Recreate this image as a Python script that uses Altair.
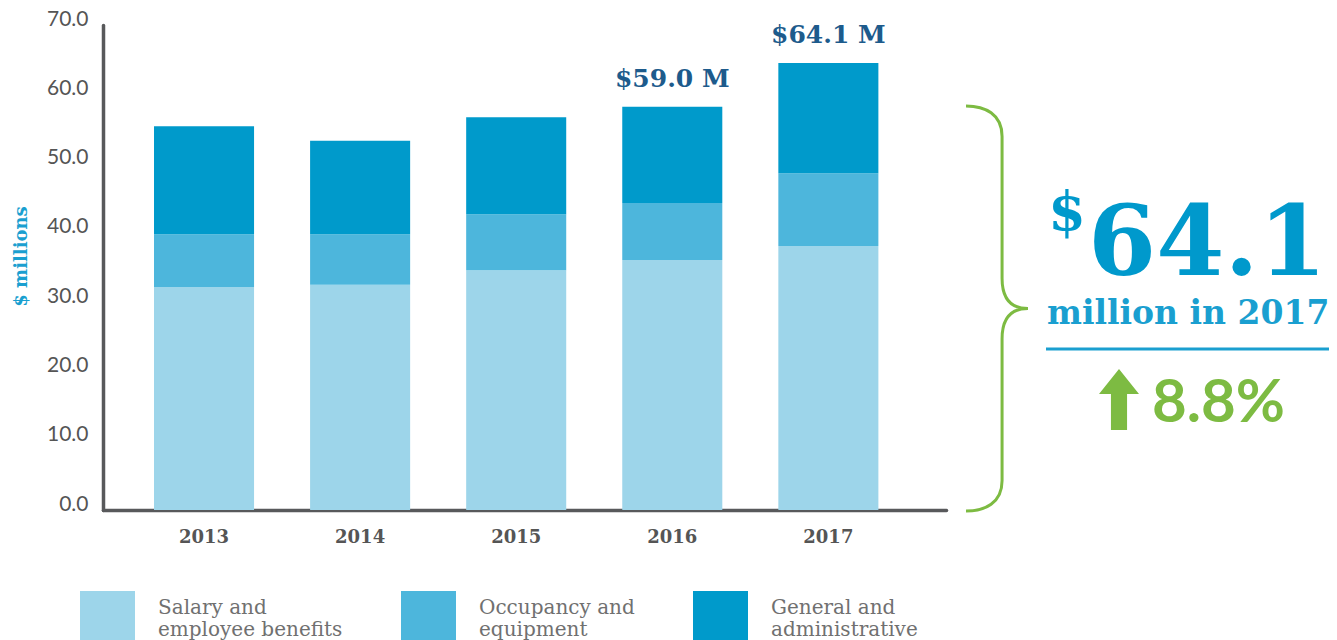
import altair as alt
import pandas as pd

# ---------------- data ----------------
years = ["2013", "2014", "2015", "2016", "2017"]
legend_lines = [["Salary and", "employee benefits"],
                ["Occupancy and", "equipment"],
                ["General and", "administrative"]]
categories = [" ".join(l) for l in legend_lines]
salary = [32.2, 32.5, 34.6, 36.1, 38.1]
occupancy = [7.6, 7.3, 8.1, 8.2, 10.5]
general = [15.6, 13.5, 14.0, 13.9, 15.9]
colors = ["#9dd5ea", "#4db6dc", "#009acb"]

label_years = ["2016", "2017"]
label_texts = ["$59.0 M", "$64.1 M"]

y_ticks = [0, 10, 20, 30, 40, 50, 60, 70]
y_title = "$ millions"

headline_currency = "$"
headline_value = "64.1"
headline_sub = "million in 2017"
change_text = "8.8%"

# ---------------- tables ----------------
series = [salary, occupancy, general]
rows = []
for i, yr in enumerate(years):
    for k, cat in enumerate(categories):
        rows.append({"year": yr, "category": cat, "value": series[k][i], "order": k})
df = pd.DataFrame(rows)

totals = {yr: salary[i] + occupancy[i] + general[i] for i, yr in enumerate(years)}
lab_df = pd.DataFrame({"year": label_years, "text": label_texts,
                       "value": [totals[y] for y in label_years]})
one = pd.DataFrame({"k": [0]})

legend_expr = " : ".join(
    f"datum.label == '{c}' ? ['{l[0]}', '{l[1]}']" for c, l in zip(categories[:-1], legend_lines[:-1])
) + f" : ['{legend_lines[-1][0]}', '{legend_lines[-1][1]}']"

x_scale = alt.Scale(domain=years, paddingInner=0.359, paddingOuter=0.38, align=0.43)
y_scale = alt.Scale(domain=[0, 70], nice=False, zero=True)

axis_col = "#58595b"

bars = alt.Chart(df).mark_bar(strokeWidth=0).encode(
    x=alt.X("year:N", scale=x_scale,
            axis=alt.Axis(title=None, labelAngle=0, labelFont="DejaVu Serif",
                          labelFontWeight="bold", labelFontSize=18, labelColor="#555555",
                          labelPadding=18, labelBaseline="top", ticks=False, grid=False,
                          domainWidth=3.5, domainColor=axis_col, domainCap="round")),
    y=alt.Y("value:Q", stack="zero", scale=y_scale,
            axis=alt.Axis(values=y_ticks, format=".1f", title=y_title, ticks=False, grid=False,
                          labelFont="Lato", labelFontSize=21, labelColor="#555555",
                          labelPadding=15, labelOffset=-6,
                          domainWidth=3.5, domainColor=axis_col, domainCap="round",
                          titleFont="DejaVu Serif", titleFontWeight="bold", titleFontSize=18,
                          titleColor="#1a9fd0", titleX=-82, titleY=231, titleAngle=-90,
                          titleAlign="center", titleBaseline="middle")),
    color=alt.Color("category:N", scale=alt.Scale(domain=categories, range=colors),
                    legend=alt.Legend(title=None, orient="none", legendX=-23, legendY=566,
                                      direction="horizontal", columns=3, symbolType="square",
                                      symbolSize=3025, symbolStrokeWidth=0, symbolOpacity=1,
                                      labelFont="DejaVu Serif", labelFontSize=20,
                                      labelColor="#707070", labelOffset=23, labelLimit=400,
                                      labelExpr=legend_expr, columnPadding=58, padding=0,
                                      labelBaseline="line-bottom")),
    order=alt.Order("order:Q", sort="ascending"),
)

labels = alt.Chart(lab_df).mark_text(font="DejaVu Serif", fontWeight="bold", fontSize=25,
                                     color="#1d5b8c", dy=-20, baseline="alphabetic",
                                     align="center").encode(
    x=alt.X("year:N", scale=x_scale),
    y=alt.Y("value:Q", scale=y_scale),
    text="text:N",
)

green = "#7dbb42"
blue = "#0099cc"

brace_path = ("M -0.153 -1 C -0.06 -1 0.025 -0.96 0.025 -0.85 L 0.025 -0.15 "
              "C 0.025 -0.05 0.07 0 0.153 0 C 0.07 0 0.025 0.05 0.025 0.15 "
              "L 0.025 0.85 C 0.025 0.96 -0.06 1 -0.153 1")
brace = alt.Chart(one).mark_point(shape=brace_path, size=405 * 405, filled=False,
                                  stroke=green, strokeWidth=3, opacity=1).encode(
    x=alt.value(894), y=alt.value(283.5))

arrow_path = "M 0 -1 L 0.645 -0.19 L 0.26 -0.19 L 0.26 0.97 L -0.26 0.97 L -0.26 -0.19 L -0.645 -0.19 Z"
arrow = alt.Chart(one).mark_point(shape=arrow_path, size=62 * 62, filled=True,
                                  fill=green, strokeWidth=0, opacity=1).encode(
    x=alt.value(1016), y=alt.value(375))

dollar = alt.Chart(one).mark_text(text=headline_currency, font="DejaVu Serif", fontWeight="bold",
                                  fontSize=54, color=blue, align="center",
                                  baseline="alphabetic").encode(
    x=alt.value(964), y=alt.value(205))

big = alt.Chart(one).mark_text(text=headline_value, font="DejaVu Serif", fontWeight="bold",
                               fontSize=98, color=blue, align="left",
                               baseline="alphabetic").encode(
    x=alt.value(985), y=alt.value(250))

sub = alt.Chart(one).mark_text(text=headline_sub, font="DejaVu Serif", fontWeight="bold",
                               fontSize=33, color="#1a9fd0", align="left",
                               baseline="alphabetic").encode(
    x=alt.value(944), y=alt.value(299))

rule = alt.Chart(one).mark_rule(color="#1a9fd0", strokeWidth=3).encode(
    x=alt.value(943), x2=alt.value(1233), y=alt.value(324))

pct = alt.Chart(one).mark_text(text=change_text, font="Lato", fontWeight="bold", fontSize=60,
                               color=green, align="left", baseline="alphabetic").encode(
    x=alt.value(1049), y=alt.value(397))

chart = alt.layer(bars, labels, brace, arrow, dollar, big, sub, rule, pct).properties(
    width=843, height=485,
    autosize=alt.AutoSizeParams(type="none"),
    padding={"left": 95, "top": 17, "right": 383, "bottom": 130},
    background="white",
).configure_view(strokeWidth=0)

chart.save("out.html", embed_options={"renderer": "svg", "actions": False})
